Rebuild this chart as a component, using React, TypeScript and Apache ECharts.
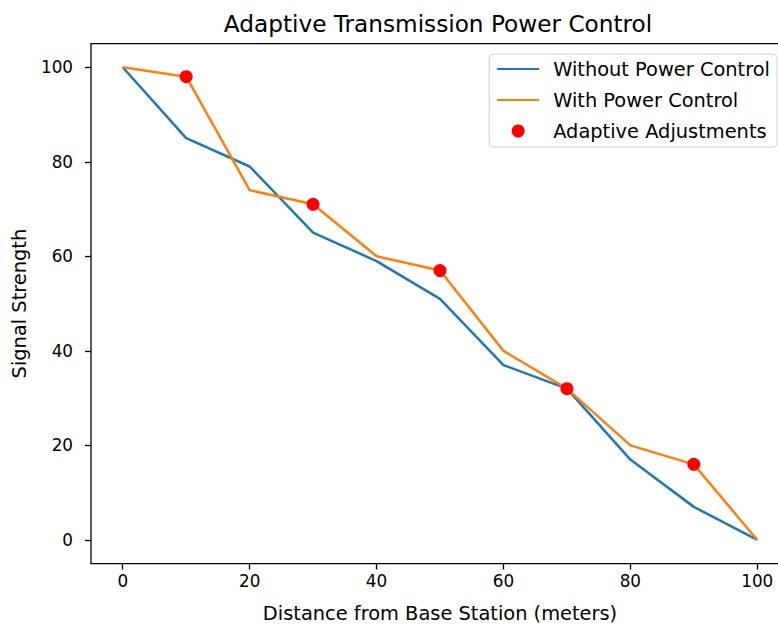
import React, { useEffect, useRef } from "react";
import * as echarts from "echarts";

const distances = [0, 10, 20, 30, 40, 50, 60, 70, 80, 90, 100];
const withoutControl = [100, 85, 79, 65, 59, 51, 37, 32, 17, 7, 0];
const withControl = [100, 98, 74, 71, 60, 57, 40, 32, 20, 16, 0];
const adjustX = [10, 30, 50, 70, 90];
const adjustY = [98, 71, 57, 32, 16];
const xTicks = [0, 20, 40, 60, 80, 100];
const yTicks = [0, 20, 40, 60, 80, 100];

const FONT = "DejaVu Sans";

export default function App() {
  const ref = useRef<HTMLDivElement>(null);
  useEffect(() => {
    if (!ref.current) return;
    const chart = echarts.init(ref.current, null, { renderer: "svg" });
    const tickStyle = { show: true, inside: false, length: 6, lineStyle: { color: "#000", width: 1.3 } };
    chart.setOption({
      animation: false,
      backgroundColor: "#fff",
      graphic: [
        {
          type: "text",
          x: 438,
          y: 23,
          style: {
            text: "Adaptive Transmission Power Control",
            fontFamily: FONT,
            fontSize: 23.2,
            fill: "#000",
            textAlign: "center",
            textVerticalAlign: "middle",
          },
        },
      ],
      grid: {
        left: 91,
        top: 43.6,
        width: 698,
        bottom: 60.4,
        containLabel: false,
        outerBoundsMode: "none",
        show: true,
        borderColor: "#000",
        borderWidth: 1.3,
        backgroundColor: "transparent",
      },
      legend: {
        orient: "vertical",
        right: 1,
        top: 54,
        padding: [4, 7, 5, 7],
        itemWidth: 42,
        itemHeight: 13,
        itemGap: 9,
        borderColor: "#d0d0d0",
        borderWidth: 1,
        borderRadius: 4,
        backgroundColor: "rgba(255,255,255,0.8)",
        textStyle: { fontFamily: FONT, fontSize: 19.4, color: "#000", lineHeight: 22, padding: [0, 0, 0, 9] },
        data: [
          { name: "Without Power Control", itemStyle: { opacity: 0 } },
          { name: "With Power Control", itemStyle: { opacity: 0 } },
          { name: "Adaptive Adjustments", icon: "circle" },
        ],
      },
      xAxis: {
        type: "value",
        min: -5,
        max: 105,
        name: "Distance from Base Station (meters)",
        nameLocation: "middle",
        nameGap: 40,
        nameTextStyle: { fontFamily: FONT, fontSize: 19.4, color: "#000" },
        axisLine: { show: false, onZero: false },
        axisTick: { ...tickStyle, customValues: xTicks },
        axisLabel: { customValues: xTicks, fontFamily: FONT, fontSize: 16.8, color: "#000", margin: 9 },
        splitLine: { show: false },
      },
      yAxis: {
        type: "value",
        min: -5,
        max: 105,
        name: "Signal Strength",
        nameLocation: "middle",
        nameGap: 62,
        nameTextStyle: { fontFamily: FONT, fontSize: 19.4, color: "#000" },
        axisLine: { show: false, onZero: false },
        axisTick: { ...tickStyle, customValues: yTicks },
        axisLabel: { customValues: yTicks, fontFamily: FONT, fontSize: 16.8, color: "#000", margin: 18 },
        splitLine: { show: false },
      },
      series: [
        {
          name: "Without Power Control",
          type: "line",
          data: distances.map((d, i) => [d, withoutControl[i]]),
          symbol: "none",
          lineStyle: { color: "#1f77b4", width: 2.5 },
          itemStyle: { color: "#1f77b4" },
          z: 2,
        },
        {
          name: "With Power Control",
          type: "line",
          data: distances.map((d, i) => [d, withControl[i]]),
          symbol: "none",
          lineStyle: { color: "#ff7f0e", width: 2.5 },
          itemStyle: { color: "#ff7f0e" },
          z: 3,
        },
        {
          name: "Adaptive Adjustments",
          type: "scatter",
          data: adjustX.map((d, i) => [d, adjustY[i]]),
          symbol: "circle",
          symbolSize: 13,
          itemStyle: { color: "#ff0000", opacity: 1 },
          z: 4,
        },
      ],
    });
    return () => chart.dispose();
  }, []);
  return (
    <div
      ref={ref}
      style={{ position: "absolute", left: 0, top: 0, width: 778, height: 624, background: "#fff" }}
    />
  );
}
